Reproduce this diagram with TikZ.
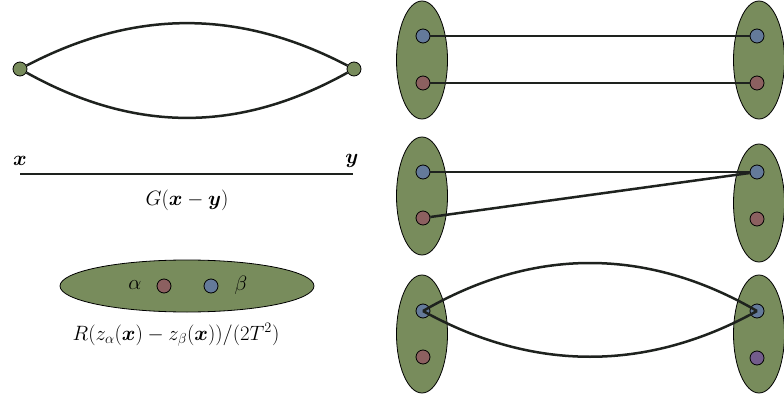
\documentclass[tikz,border=0pt]{standalone}
\usepackage{amsmath,amssymb}
\usetikzlibrary{shapes.geometric,positioning}
\definecolor{blobG}{RGB}{120,140,92}
\definecolor{dotB}{RGB}{100,122,154}
\definecolor{dotR}{RGB}{140,96,96}
\definecolor{dotP}{RGB}{115,92,140}
\definecolor{ink}{RGB}{30,34,30}

\begin{document}
\begin{tikzpicture}[x=1pt, y=-1pt, font=\fontsize{20.74}{24}\selectfont,
  blob/.style={ellipse, draw=black, fill=blobG, line width=0.8pt, inner sep=0pt},
  dot/.style={circle, draw=black, line width=0.8pt, minimum size=14pt, inner sep=0pt},
  prop/.style={draw=ink, line width=2.5pt}]
  \useasboundingbox (0,0) rectangle (784,401);
  % left column
  \node[dot, fill=blobG] (lx) at (20,69) {};
  \node[dot, fill=blobG] (ly) at (354,69) {};
  \draw[prop] (lx) .. controls +(115,-60) and +(-115,-60) .. (ly);
  \draw[prop] (lx) .. controls +(115,64) and +(-115,64) .. (ly);
  \coordinate (gx) at (20,174);
  \coordinate (gy) at (353,174);
  \draw[prop] (gx) -- (gy);
  \node (xlab) at (20,161) {$\boldsymbol{x}$};
  \node (ylab) at (352,161) {$\boldsymbol{y}$};
  \node (glab) at (187,200) {$G(\boldsymbol{x}-\boldsymbol{y})$};
  \node[blob, minimum width=254pt, minimum height=52pt] (rblob) at (187,286) {};
  \node[dot, fill=dotR] (ra) at (164,286) {};
  \node[dot, fill=dotB] (rb) at (211,286) {};
  \node (alab) at (135,285) {$\alpha$};
  \node (blab) at (241,285) {$\beta$};
  \node (rlab) at (176,335) {$R(z_\alpha(\boldsymbol{x})-z_\beta(\boldsymbol{x}))/(2T^2)$};
  % right column
  \node[blob, minimum width=51pt, minimum height=118pt] (aL) at (422,60) {};
  \node[blob, minimum width=51pt, minimum height=118pt] (aR) at (759,60) {};
  \node[dot, fill=dotB] (aLb) at (423,36) {};
  \node[dot, fill=dotR] (aLr) at (423,83) {};
  \node[dot, fill=dotB] (aRb) at (757,36) {};
  \node[dot, fill=dotR] (aRr) at (757,83) {};
  \draw[prop] (aLb) -- (aRb);
  \draw[prop] (aLr) -- (aRr);
  \node[blob, minimum width=51pt, minimum height=118pt] (bL) at (422,196) {};
  \node[blob, minimum width=51pt, minimum height=118pt] (bR) at (759,203) {};
  \node[dot, fill=dotB] (bLb) at (423,172) {};
  \node[dot, fill=dotR] (bLr) at (423,218) {};
  \node[dot, fill=dotB] (bRb) at (757,172) {};
  \node[dot, fill=dotR] (bRr) at (757,219) {};
  \draw[prop] (bLb) -- (bRb);
  \draw[prop] (bLr) -- (bRb);
  \node[blob, minimum width=51pt, minimum height=118pt] (cL) at (422,334) {};
  \node[blob, minimum width=51pt, minimum height=118pt] (cR) at (759,334) {};
  \node[dot, fill=dotB] (cLb) at (423,311) {};
  \node[dot, fill=dotR] (cLr) at (423,357) {};
  \node[dot, fill=dotB] (cRb) at (757,311) {};
  \node[dot, fill=dotP] (cRp) at (757,358) {};
  \draw[prop] (cLb.center) .. controls +(110,-64) and +(-110,-64) .. (cRb.center);
  \draw[prop] (cLb.center) .. controls +(110,61) and +(-110,61) .. (cRb.center);
\end{tikzpicture}
\end{document}
